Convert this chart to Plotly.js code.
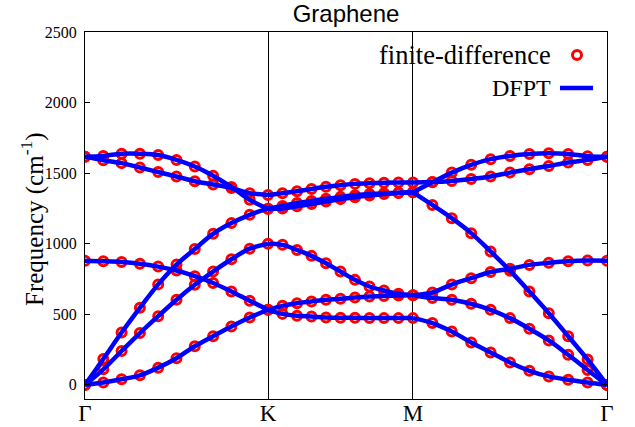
<!DOCTYPE html>
<html><head><meta charset="utf-8">
<script src="https://cdn.plot.ly/plotly-3.0.1.min.js"></script>
<style>html,body{margin:0;padding:0;background:#fff}#chart{width:635px;height:427px}</style>
</head><body><div id="chart"></div>
<script>
// q-path coordinate of each computed point (Γ-K, K-M, M-Γ; 10 steps each)
const qPath = [0, 0.1, 0.2, 0.3, 0.4, 0.5, 0.6, 0.7, 0.8, 0.9, 1.0,
  1.0792, 1.1585, 1.2377, 1.3169, 1.3962, 1.4754, 1.5546, 1.6338, 1.7131, 1.7923,
  1.8983, 2.0043, 2.1103, 2.2164, 2.3224, 2.4284, 2.5344, 2.6404, 2.7465, 2.8525];
const kLabels = ['Γ', 'K', 'M', 'Γ'];
const kPos = [0, 1, 1.7923, 2.8525];
const segEnds = [0, 10, 20, 30];
const yTicks = [0, 500, 1000, 1500, 2000, 2500];

// phonon branches (cm^-1)
const bandZA = [0, 17, 40, 68, 122, 189, 274, 345, 414, 477, 532,
  503, 489, 484, 478, 476, 475, 474, 473, 473, 473,
  438, 378, 300, 230, 159, 100, 60, 36, 17, 0];
const bandTA = [0, 110, 240, 367, 487, 603, 709, 803, 890, 965, 1000,
  992, 956, 914, 862, 803, 744, 697, 669, 645, 635,
  615, 603, 575, 532, 473, 398, 315, 213, 106, 0];
const bandZO = [880, 876, 870, 858, 838, 810, 770, 722, 662, 596, 532,
  560, 579, 591, 603, 610, 619, 626, 630, 633, 635,
  655, 711, 756, 800, 822, 850, 865, 876, 881, 880];
const bandLA = [0, 183, 371, 546, 712, 852, 963, 1070, 1146, 1205, 1248,
  1250, 1265, 1282, 1299, 1316, 1330, 1342, 1352, 1360, 1364,
  1275, 1181, 1075, 945, 809, 661, 508, 345, 180, 0];
const bandTO = [1617, 1592, 1571, 1540, 1508, 1476, 1443, 1420, 1395, 1358, 1346,
  1358, 1372, 1388, 1403, 1415, 1424, 1429, 1432, 1434, 1434,
  1437, 1445, 1458, 1476, 1504, 1528, 1551, 1575, 1594, 1617];
const bandLO = [1617, 1622, 1638, 1638, 1628, 1594, 1547, 1482, 1402, 1311, 1248,
  1268, 1288, 1303, 1318, 1332, 1343, 1352, 1358, 1362, 1364,
  1435, 1504, 1559, 1599, 1622, 1636, 1641, 1636, 1620, 1617];

const bands = [bandZA, bandTA, bandZO, bandLA, bandTO, bandLO];

function segmented(arr) {
  const out = [];
  for (let s = 0; s < segEnds.length - 1; s++) {
    for (let i = segEnds[s]; i <= segEnds[s + 1]; i++) out.push(arr[i]);
    if (s < segEnds.length - 2) out.push(null);
  }
  return out;
}

const traces = [];
bands.forEach(b => traces.push({
  type: 'scatter', mode: 'markers', x: qPath, y: b,
  marker: {symbol: 'circle-open', size: 9, color: '#ff0000', line: {width: 3, color: '#ff0000'}},
  showlegend: false, hoverinfo: 'skip'
}));
bands.forEach(b => traces.push({
  type: 'scatter', mode: 'lines', x: segmented(qPath), y: segmented(b),
  line: {color: '#0000ff', width: 4.5, shape: 'spline', smoothing: 1},
  connectgaps: false, showlegend: false, hoverinfo: 'skip'
}));

const L = 85, R = 607, T = 32, B = 399;
const px = v => (v - L) / (R - L);
const py = v => (B - v) / (B - T);
const serif = 'Liberation Serif, Times New Roman, serif';

const layout = {
  width: 635, height: 427,
  margin: {l: L, r: 635 - R, t: T, b: 427 - B, pad: 0},
  paper_bgcolor: '#ffffff', plot_bgcolor: '#ffffff',
  showlegend: false,
  title: {text: 'Graphene', font: {family: 'Liberation Sans, Arial, sans-serif', size: 24, color: '#000'},
    x: 0.5, xref: 'paper', xanchor: 'center', y: 0.988, yref: 'container', yanchor: 'top'},
  xaxis: {range: [0, 2.8525], tickmode: 'array', tickvals: kPos, ticktext: kLabels, ticks: '',
    showgrid: true, gridcolor: '#000', gridwidth: 1, showline: true, mirror: true,
    linecolor: '#000', linewidth: 1, zeroline: false, ticklabelstandoff: -7,
    tickfont: {family: serif, size: 23, color: '#000'}},
  yaxis: {range: [-100, 2500], tickmode: 'array', tickvals: yTicks, ticks: 'inside', ticklen: 5,
    tickcolor: '#000', showline: true, mirror: 'ticks', linecolor: '#000', linewidth: 1,
    showgrid: false, zeroline: false, ticklabelstandoff: 4,
    tickfont: {family: serif, size: 16, color: '#000'}},
  annotations: [
    {text: 'Frequency (cm<sup>-1</sup>)', xref: 'paper', yref: 'paper', x: px(32), y: py(219),
      xanchor: 'center', yanchor: 'middle', textangle: -90, showarrow: false,
      font: {family: serif, size: 25, color: '#000'}},
    {text: 'finite-difference', xref: 'paper', yref: 'paper', x: px(553), y: py(55),
      xanchor: 'right', yanchor: 'middle', showarrow: false, font: {family: serif, size: 26.5, color: '#000'}},
    {text: 'DFPT', xref: 'paper', yref: 'paper', x: px(553), y: py(88),
      xanchor: 'right', yanchor: 'middle', showarrow: false, font: {family: serif, size: 24, color: '#000'}}
  ],
  shapes: [
    {type: 'circle', xref: 'paper', yref: 'paper', xsizemode: 'pixel', ysizemode: 'pixel',
      xanchor: px(577), yanchor: py(55), x0: -4.5, x1: 4.5, y0: -4.5, y1: 4.5,
      line: {color: '#ff0000', width: 3}},
    {type: 'line', xref: 'paper', yref: 'paper', x0: px(560), x1: px(593), y0: py(88), y1: py(88),
      line: {color: '#0000ff', width: 4.5}}
  ]
};

Plotly.newPlot('chart', traces, layout, {displayModeBar: false, staticPlot: true});
</script>
</body></html>
